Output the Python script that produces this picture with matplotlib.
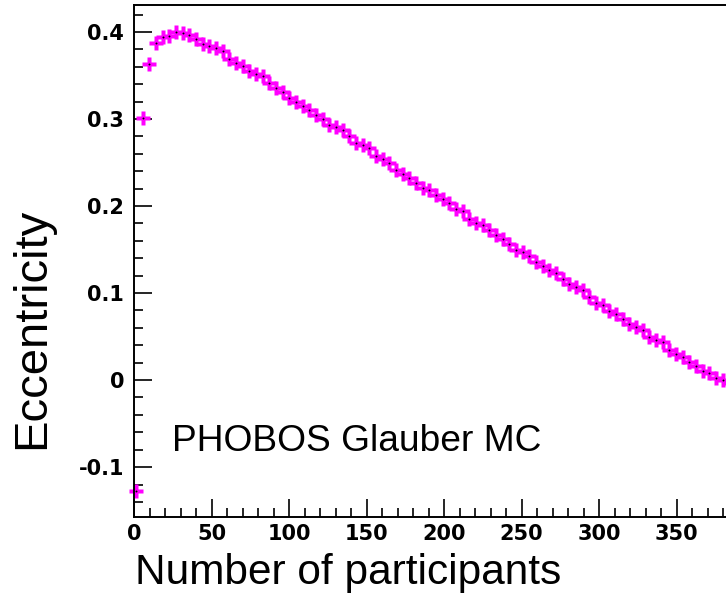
import matplotlib
matplotlib.use("Agg")
import matplotlib.pyplot as plt
from matplotlib.ticker import MultipleLocator, FuncFormatter

# mean number of participants per bin and the eccentricity in that bin
npart = [1.3, 5.6, 9.9, 14.2, 18.5, 22.8, 27.1, 31.4, 35.7, 40.0,
         44.3, 48.6, 52.9, 57.2, 61.5, 65.8, 70.1, 74.4, 78.7, 83.0,
         87.3, 91.6, 95.9, 100.2, 104.5, 108.8, 113.1, 117.4, 121.7, 126.0,
         130.3, 134.6, 138.9, 143.2, 147.5, 151.8, 156.1, 160.4, 164.7, 169.0,
         173.3, 177.6, 181.9, 186.2, 190.5, 194.8, 199.1, 203.4, 207.7, 212.0,
         216.3, 220.6, 224.9, 229.2, 233.5, 237.8, 242.1, 246.4, 250.7, 255.0,
         259.3, 263.6, 267.9, 272.2, 276.5, 280.8, 285.1, 289.4, 293.7, 298.0,
         302.3, 306.6, 310.9, 315.2, 319.5, 323.8, 328.1, 332.4, 336.7, 341.0,
         345.3, 349.6, 353.9, 358.2, 362.5, 366.8, 371.1, 375.4, 379.7, 384.0]
ecc = [-0.128, 0.301, 0.363, 0.387, 0.394, 0.395, 0.400, 0.399, 0.397, 0.392,
       0.386, 0.384, 0.382, 0.378, 0.369, 0.365, 0.361, 0.355, 0.352, 0.349,
       0.342, 0.336, 0.331, 0.324, 0.320, 0.315, 0.310, 0.305, 0.300, 0.293,
       0.291, 0.287, 0.280, 0.272, 0.270, 0.267, 0.258, 0.254, 0.249, 0.241,
       0.237, 0.232, 0.227, 0.221, 0.218, 0.213, 0.208, 0.204, 0.197, 0.194,
       0.185, 0.181, 0.178, 0.173, 0.167, 0.162, 0.156, 0.150, 0.147, 0.143,
       0.136, 0.131, 0.126, 0.123, 0.116, 0.110, 0.107, 0.103, 0.095, 0.089,
       0.086, 0.079, 0.076, 0.070, 0.065, 0.061, 0.057, 0.049, 0.046, 0.044,
       0.035, 0.030, 0.027, 0.021, 0.016, 0.011, 0.008, 0.002, 0.000, -0.003]

fig = plt.figure(figsize=(7.26, 5.97), dpi=100)
# the frame runs past the right edge of the canvas
ax = fig.add_axes([0.1846, 0.1345, 0.850, 0.857])

ax.plot(npart, ecc, ls="none", marker="P", ms=10, color="#ff00ff",
        mec="none", clip_on=False, zorder=2)
ax.plot(npart, ecc, ls="none", marker="o", ms=1.4, color="black",
        mec="none", clip_on=False, zorder=3)

ax.set_xlim(0, 398)
ax.set_ylim(-0.157, 0.431)

# ROOT-like axes: ticks inside, bold labels
ax.xaxis.set_major_locator(MultipleLocator(50))
ax.xaxis.set_minor_locator(MultipleLocator(10))
ax.yaxis.set_major_locator(MultipleLocator(0.1))
ax.yaxis.set_minor_locator(MultipleLocator(0.02))
ax.yaxis.set_major_formatter(FuncFormatter(lambda v, p: "0" if abs(v) < 1e-9 else f"{v:.1f}"))
ax.tick_params(which="both", direction="in", top=False, right=False, width=1.2)
ax.tick_params(which="major", length=13)
ax.tick_params(which="minor", length=6.5)
ax.tick_params(axis="y", pad=7)
ax.tick_params(axis="x", pad=5)
for lbl in ax.get_xticklabels() + ax.get_yticklabels():
    lbl.set_fontfamily("DejaVu Sans")
    lbl.set_fontweight("bold")
    lbl.set_fontsize(15)
for s in ax.spines.values():
    s.set_linewidth(1.4)
    s.set_zorder(4)

fig.text(0.186, 0.022, "Number of participants", fontsize=30.5,
         family="Liberation Sans", va="baseline", ha="left")
fig.text(0.044, 0.45, "Eccentricity", fontsize=34, family="Liberation Sans",
         rotation=90, va="center", ha="center")
fig.text(0.237, 0.245, "PHOBOS Glauber MC", fontsize=26.7,
         family="Liberation Sans", va="baseline", ha="left")

fig.savefig("out.png", dpi=100)
